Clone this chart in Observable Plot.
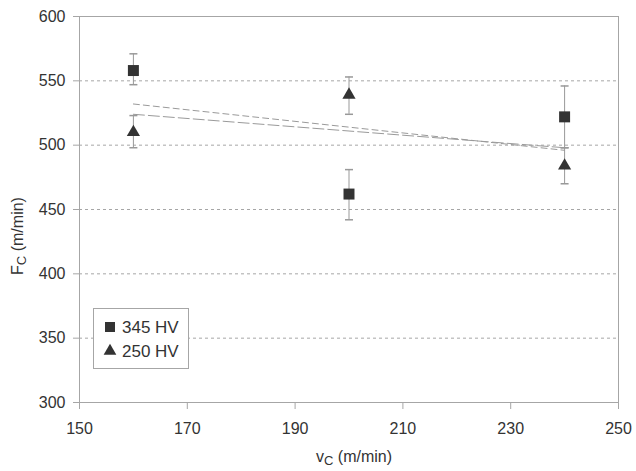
<!DOCTYPE html>
<html><head><meta charset="utf-8">
<script src="https://cdn.jsdelivr.net/npm/d3@7"></script>
<script src="https://cdn.jsdelivr.net/npm/@observablehq/plot@0.6"></script>
<style>
body{margin:0;background:#fff}
svg{font-family:"Liberation Sans",Arial,sans-serif}
</style>
</head><body><div id="chart"></div>
<script>
const speeds = [160, 200, 240];
const hv345 = [558, 462, 522];
const hv345Lo = [547, 442, 498];
const hv345Hi = [571, 481, 546];
const hv250 = [510, 539, 484];
const hv250Lo = [498, 524, 470];
const hv250Hi = [523, 553, 498];
const series = ["345 HV", "250 HV"];
const xTicks = [150, 170, 190, 210, 230, 250];
const yTicks = [300, 350, 400, 450, 500, 550, 600];
const gridValues = [350, 400, 450, 500, 550];

const rows345 = speeds.map((x, i) => ({x, y: hv345[i], lo: hv345Lo[i], hi: hv345Hi[i], s: series[0]}));
const rows250 = speeds.map((x, i) => ({x, y: hv250[i], lo: hv250Lo[i], hi: hv250Hi[i], s: series[1]}));
const rows = rows345.concat(rows250);

const cap = {draw(ctx) { ctx.moveTo(-4, 0); ctx.lineTo(4, 0); }};
const textColor = "#333";
const lineGray = "#a6a6a6";

const plot = Plot.plot({
  width: 636, height: 471,
  marginLeft: 79, marginRight: 18, marginTop: 16, marginBottom: 69,
  style: {fontFamily: '"Liberation Sans", Arial, sans-serif', fontSize: "16px", color: textColor, background: "white", overflow: "visible"},
  x: {domain: [150, 250]},
  y: {domain: [300, 600]},
  marks: [
    Plot.ruleY(gridValues, {stroke: lineGray, strokeDasharray: "3,3"}),
    Plot.frame({stroke: lineGray}),
    Plot.axisX({ticks: xTicks, tickSize: 7, tickPadding: 13, stroke: lineGray, fill: textColor, label: null}),
    Plot.axisY({ticks: yTicks, tickSize: 6, tickPadding: 8, stroke: lineGray, fill: textColor, label: null}),
    Plot.linearRegressionY(rows345, {x: "x", y: "y", stroke: "#9a9a9a", strokeWidth: 1, ci: 0, strokeDasharray: "6,4"}),
    Plot.linearRegressionY(rows250, {x: "x", y: "y", stroke: "#9a9a9a", strokeWidth: 1, ci: 0, strokeDasharray: "11,4"}),
    Plot.ruleX(rows, {x: "x", y1: "lo", y2: "hi", stroke: "#999"}),
    Plot.dot(rows, {x: "x", y: "lo", symbol: cap, stroke: "#999", fill: "none", r: 3}),
    Plot.dot(rows, {x: "x", y: "hi", symbol: cap, stroke: "#999", fill: "none", r: 3}),
    Plot.dot(rows345, {x: "x", y: "y", symbol: "square", r: 6.2, fill: "#333", stroke: "none"}),
    Plot.dot(rows250, {x: "x", y: "y", symbol: "triangle", r: 4.9, fill: "#333", stroke: "none"})
  ]
});

document.getElementById("chart").appendChild(plot);
const svg = d3.select(plot);

// axis titles with subscripts
const xl = svg.append("text").attr("x", 354).attr("y", 462).attr("text-anchor", "middle")
  .attr("fill", textColor).attr("font-size", 16);
xl.append("tspan").text("v");
xl.append("tspan").attr("baseline-shift", "-25%").attr("font-size", 13).text("C");
xl.append("tspan").text(" (m/min)");

const yl = svg.append("text").attr("transform", "translate(23,236) rotate(-90)").attr("text-anchor", "middle")
  .attr("fill", textColor).attr("font-size", 16);
yl.append("tspan").text("F");
yl.append("tspan").attr("baseline-shift", "-25%").attr("font-size", 13).text("C");
yl.append("tspan").text(" (m/min)");

// legend
const lg = svg.append("g").attr("text-anchor", "start");
lg.append("rect").attr("x", 93.5).attr("y", 308.5).attr("width", 95).attr("height", 60)
  .attr("fill", "white").attr("stroke", lineGray);
const symbols = [d3.symbolSquare, d3.symbolTriangle];
const sizes = [100, 70];
const ys = [327, 351];
series.forEach((name, i) => {
  lg.append("path").attr("d", d3.symbol(symbols[i], sizes[i])()).attr("transform", `translate(110,${ys[i]})`).attr("fill", "#333");
  lg.append("text").attr("x", 122).attr("y", ys[i] + 6).attr("text-anchor", "start").attr("fill", textColor).attr("font-size", 17).text(name);
});
</script>
</body></html>
